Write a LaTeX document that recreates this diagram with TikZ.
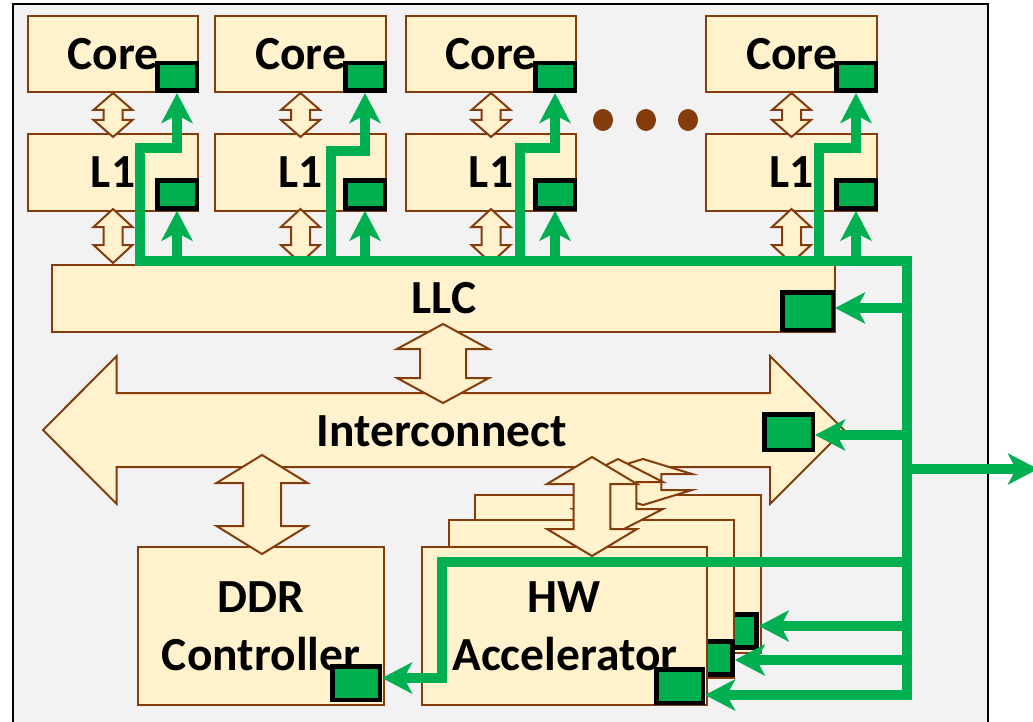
\documentclass[tikz,border=0pt]{standalone}
\usepackage{fontspec}
\setmainfont{Carlito}
\usetikzlibrary{arrows.meta}
\definecolor{bg}{HTML}{F2F2F2}
\definecolor{cream}{HTML}{FFF2CC}
\definecolor{brd}{HTML}{843C0C}
\definecolor{sig}{HTML}{00B050}

% vertical block double arrow: centre x, top y, bottom y, head half-width, shaft half-width, head length
\newcommand{\vdarrow}[6]{%
  \draw[darrow] (#1,#2) -- ({#1+#4},{#2+#6}) -- ({#1+#5},{#2+#6}) -- ({#1+#5},{#3-#6})
    -- ({#1+#4},{#3-#6}) -- (#1,#3) -- ({#1-#4},{#3-#6}) -- ({#1-#5},{#3-#6})
    -- ({#1-#5},{#2+#6}) -- ({#1-#4},{#2+#6}) -- cycle;}

\begin{document}
\begin{tikzpicture}[x=1pt,y=-1pt,
  box/.style={draw=brd, fill=cream, line width=2pt, inner sep=0pt},
  darrow/.style={draw=brd, fill=cream, line width=2pt, line join=miter},
  lbl/.style={font=\fontsize{47.5}{50}\selectfont\bfseries, inner sep=0pt, anchor=base},
  sq/.style={draw=black, fill=sig, line width=4.5pt, inner sep=0pt},
  gline/.style={draw=sig, line width=10pt, line join=miter,
    >={Stealth[length=30pt,width=31pt,inset=8pt]}},
]
\useasboundingbox (0,0) rectangle (1033,722);

% chip outline
\draw[line width=2pt, fill=bg] (13,4) rectangle (988,740);

% cores and L1 caches
\foreach \n/\cx/\w in {1/113/170, 2/300.5/171, 3/491/170, 4/791.5/171}{
  \node[box, minimum width=\w pt, minimum height=76pt] (core\n) at (\cx,54) {};
  \node[box, minimum width=\w pt, minimum height=77pt] (l1\n) at (\cx,172.5) {};
}
\foreach \cx in {113, 300.5, 491, 791.5}{
  \vdarrow{\cx}{93}{137}{19.5}{9.5}{17}
  \vdarrow{\cx}{209}{263}{19.5}{9.5}{18}
}

% ellipsis between the cores
\foreach \dx in {603, 646, 688}
  \fill[brd] (\dx,120) ellipse [x radius=10pt, y radius=11pt];

% last level cache
\node[box, minimum width=783pt, minimum height=67pt] (llc) at (443.5,298.5) {};

% interconnect
\draw[darrow] (43,430) -- (116.7,356) -- (116.7,393) -- (770,393) -- (770,356)
  -- (844,430) -- (770,504) -- (770,467) -- (116.7,467) -- (116.7,504) -- cycle;
\vdarrow{443}{324}{403}{46}{23}{25}

% DDR controller
\node[box, minimum width=246pt, minimum height=158pt] (ddr) at (261,626) {};
\vdarrow{262}{455}{554}{45.5}{19}{28}

% stacked accelerators
\node[box, minimum width=286pt, minimum height=158pt] (hwc) at (618,574) {};
\node[sq, minimum width=46pt, minimum height=33pt] (hwcsq) at (733.5,631) {};
\node[box, minimum width=285pt, minimum height=158pt] (hwb) at (591.5,599) {};
\node[sq, minimum width=46pt, minimum height=33pt] (hwbsq) at (709.5,658) {};
\node[box, minimum width=285pt, minimum height=158pt] (hwa) at (564.5,626) {};
\vdarrow{643}{459}{505}{49}{18.3}{15}
\vdarrow{618}{459}{532}{45}{18.3}{23}
\vdarrow{592}{457}{556}{45}{18.3}{27}

% labels
\foreach \n/\cx in {1/113, 2/300.5, 3/491, 4/791.5}{
  \node[lbl] (corelbl\n) at (\cx,70) {Core};
  \node[lbl] (l1lbl\n) at (\cx,188) {L1};
}
\node[lbl] (llclbl) at (444,313) {LLC};
\node[lbl] (iclbl) at (442,446) {Interconnect};
\node[lbl] (ddrlbl) at (261,612) {DDR};
\node[lbl] (ctrllbl) at (261,670) {Controller};
\node[lbl] (hwlbl) at (564,612) {HW};
\node[lbl] (acclbl) at (565,670) {Accelerator};

% trace ports
\foreach \n/\sx in {1/177, 2/365, 3/555, 4/856}{
  \node[sq, minimum width=39.5pt, minimum height=27.5pt] (csq\n) at (\sx,77) {};
  \node[sq, minimum width=39.5pt, minimum height=28pt] (lsq\n) at (\sx,194.5) {};
}
\node[sq, minimum width=50.5pt, minimum height=37.5pt] (llcsq) at (807.5,311) {};
\node[sq, minimum width=48.5pt, minimum height=35.5pt] (icsq) at (788.5,432) {};
\node[sq, minimum width=47.5pt, minimum height=33.5pt] (ddrsq) at (356,683) {};
\node[sq, minimum width=46.5pt, minimum height=33.5pt] (hwasq) at (679.5,686) {};

% trace network
\coordinate (bus) at (0,261);
\coordinate (trunk) at (907,261);
\coordinate (j1) at (140,148);
\coordinate (j2) at (331,151);
\coordinate (j3) at (520,148);
\coordinate (j4) at (819,148);
\coordinate (tllc) at (907,308);
\coordinate (tic) at (907,435);
\coordinate (tout) at (907,469);
\coordinate (thw) at (907,562);
\coordinate (tc) at (907,626);
\coordinate (tb) at (907,660);
\coordinate (ta) at (907,695);
\coordinate (hwbend) at (442,562);
\coordinate (hwlow) at (442,678);
\coordinate (ext) at (1038,469);

\draw[gline,<->] (csq1.south) -- (csq1.south |- j1) -- (j1) -- (j1 |- bus)
  -- (trunk) -- (ta) -- (hwasq.east |- ta);
\foreach \n in {2,3,4}
  \draw[gline,->] (j\n |- bus) -- (j\n) -- (csq\n.south |- j\n) -- (csq\n.south);
\foreach \n in {1,2,3,4}
  \draw[gline,->] (lsq\n.south |- bus) -- (lsq\n.south);
\draw[gline,->] (tllc) -- (llcsq.east |- tllc);
\draw[gline,->] (tic) -- (icsq.east |- tic);
\draw[gline,->] (tout) -- (ext);
\draw[gline,->] (tc) -- (hwcsq.east |- tc);
\draw[gline,->] (tb) -- (hwbsq.east |- tb);
\draw[gline,->] (thw) -- (hwbend) -- (hwlow) -- (ddrsq.east |- hwlow);
\end{tikzpicture}
\end{document}
